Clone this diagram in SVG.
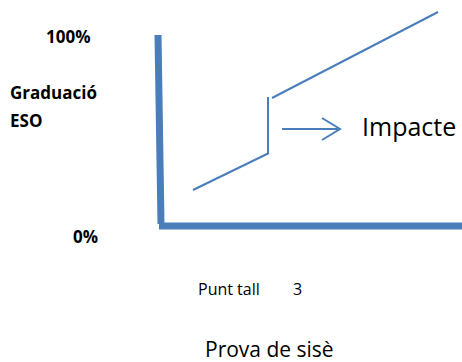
<svg xmlns="http://www.w3.org/2000/svg" width="462" height="362" viewBox="0 0 462 362">
<style>
.lbl{font-family:"Open Sans","Liberation Sans",sans-serif;fill:#000}
.b{font-weight:bold;font-size:17px}
.axis{stroke:#4a7ebb;stroke-width:7;fill:none}
.ln{stroke:#4a7ebb;stroke-width:2;fill:none}
</style>
<rect width="462" height="362" fill="#fff"/>
<g id="axes">
<line class="axis" x1="158" y1="35" x2="161" y2="224"/>
<line class="axis" x1="159" y1="226" x2="462" y2="226"/>
</g>
<g id="connectors">
<polyline class="ln" points="193,190 269,153"/>
<line class="ln" x1="268" y1="97" x2="268" y2="153" stroke-width="3"/>
<line class="ln" x1="272" y1="98" x2="438" y2="12"/>
<line class="ln" x1="282" y1="129" x2="340" y2="129"/>
<polyline class="ln" points="322,118 340,129 322,140"/>
</g>
<g id="labels">
<text class="lbl b" x="46" y="43">100%</text>
<text class="lbl b" x="10" y="99">Graduació</text>
<text class="lbl b" x="10" y="127">ESO</text>
<text class="lbl b" x="73" y="243">0%</text>
<text class="lbl" x="362" y="136" font-size="25">Impacte</text>
<text class="lbl" x="198" y="295" font-size="16">Punt tall</text>
<text class="lbl" x="293" y="295" font-size="16">3</text>
<text class="lbl" x="205" y="357" font-size="21">Prova de sisè</text>
</g>
</svg>
